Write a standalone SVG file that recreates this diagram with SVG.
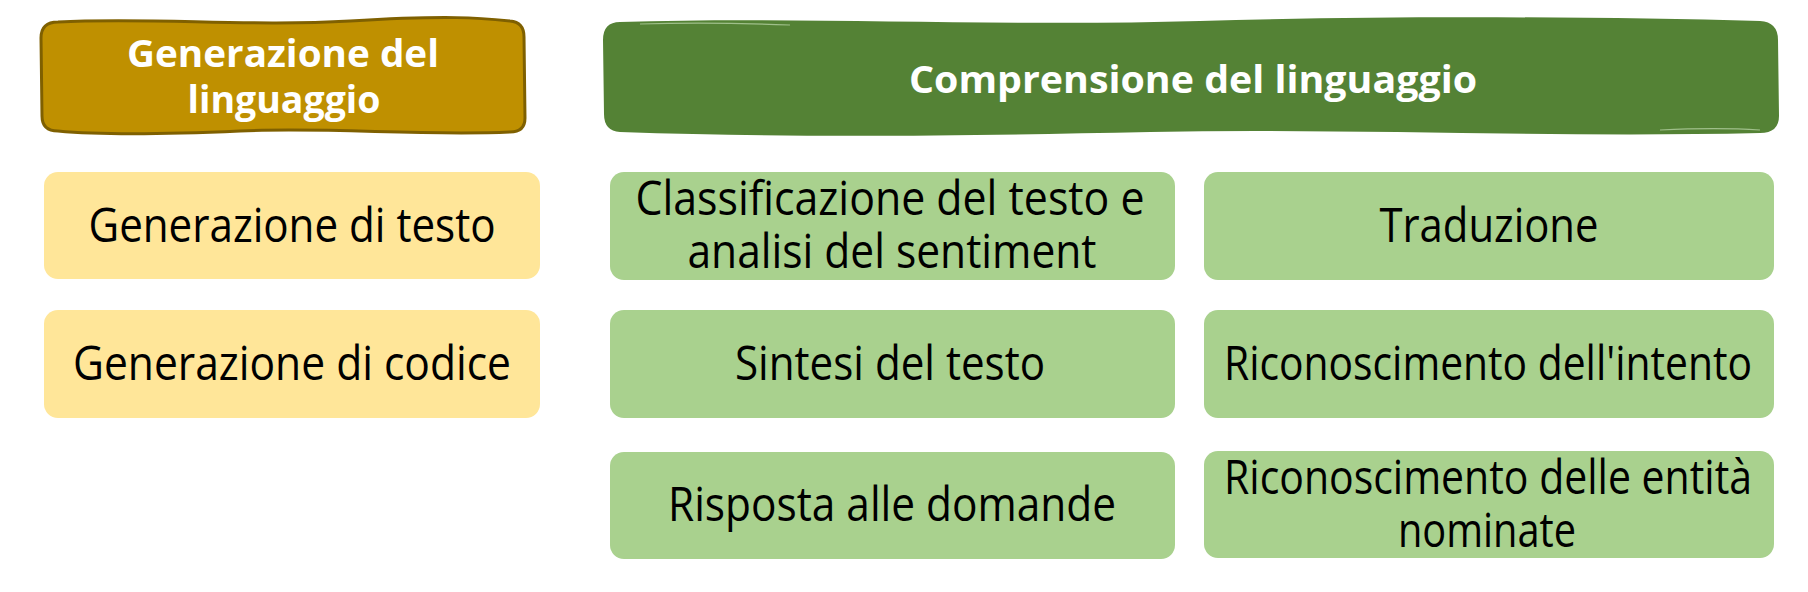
<svg xmlns="http://www.w3.org/2000/svg" width="1808" height="592" viewBox="0 0 1808 592">
<style>
.t{font-family:"Open Sans","Noto Sans","Liberation Sans",sans-serif;font-size:48px;fill:#000;text-anchor:middle}
.h{font-family:"Open Sans","Noto Sans","Liberation Sans",sans-serif;font-size:38px;font-weight:bold;fill:#fff;text-anchor:middle}
.y{fill:#FFE699}
.g{fill:#A9D18E}
</style>
<rect width="1808" height="592" fill="#fff"/>
<g id="hdr-gen">
<path d="M58 22 C150 17 250 27 350 21 S480 18 510 21 Q524 22 524 37 L525 118 Q525 132 510 132 C420 136 330 127 240 131 S100 135 58 131 Q42 131 42 116 L41 38 Q41 22 58 22 Z" fill="#BF9000" stroke="#7F6000" stroke-width="3"/>
<text class="h" x="283" y="67" textLength="312" lengthAdjust="spacingAndGlyphs">Generazione del</text>
<text class="h" x="284" y="113" textLength="193" lengthAdjust="spacingAndGlyphs">linguaggio</text>
</g>
<g id="hdr-comp">
<path d="M620 22 C800 16 1000 27 1200 21 S1600 17 1760 21 Q1778 22 1778 40 L1779 116 Q1779 133 1760 133 C1550 138 1350 128 1150 132 S800 138 620 132 Q604 131 604 114 L603 40 Q603 22 620 22 Z" fill="#548235"/>
<path d="M640 24 C700 22 740 23 790 25" fill="none" stroke="#9fbf8a" stroke-width="1.2"/>
<path d="M1660 130 C1700 128 1730 128 1760 130" fill="none" stroke="#9fbf8a" stroke-width="1.2"/>
<text class="h" x="1193" y="93" textLength="568" lengthAdjust="spacingAndGlyphs">Comprensione del linguaggio</text>
</g>
<g id="n-gen-testo">
<rect class="y" x="44" y="172" width="496" height="107" rx="14"/>
<text class="t" x="292" y="242" textLength="407" lengthAdjust="spacingAndGlyphs">Generazione di testo</text>
</g>
<g id="n-gen-codice">
<rect class="y" x="44" y="310" width="496" height="108" rx="14"/>
<text class="t" x="292" y="380" textLength="438" lengthAdjust="spacingAndGlyphs">Generazione di codice</text>
</g>
<g id="n-classificazione">
<rect class="g" x="610" y="172" width="565" height="108" rx="14"/>
<text class="t" x="890" y="215" textLength="509" lengthAdjust="spacingAndGlyphs">Classificazione del testo e</text>
<text class="t" x="892" y="268" textLength="409" lengthAdjust="spacingAndGlyphs">analisi del sentiment</text>
</g>
<g id="n-traduzione">
<rect class="g" x="1204" y="172" width="570" height="108" rx="14"/>
<text class="t" x="1489" y="242" textLength="219" lengthAdjust="spacingAndGlyphs">Traduzione</text>
</g>
<g id="n-sintesi">
<rect class="g" x="610" y="310" width="565" height="108" rx="14"/>
<text class="t" x="890" y="380" textLength="310" lengthAdjust="spacingAndGlyphs">Sintesi del testo</text>
</g>
<g id="n-intento">
<rect class="g" x="1204" y="310" width="570" height="108" rx="14"/>
<text class="t" x="1488" y="380" textLength="528" lengthAdjust="spacingAndGlyphs">Riconoscimento dell'intento</text>
</g>
<g id="n-risposta">
<rect class="g" x="610" y="452" width="565" height="107" rx="14"/>
<text class="t" x="892" y="521" textLength="448" lengthAdjust="spacingAndGlyphs">Risposta alle domande</text>
</g>
<g id="n-entita">
<rect class="g" x="1204" y="451" width="570" height="107" rx="14"/>
<text class="t" x="1488" y="494" textLength="528" lengthAdjust="spacingAndGlyphs">Riconoscimento delle entità</text>
<text class="t" x="1487" y="547" textLength="178" lengthAdjust="spacingAndGlyphs">nominate</text>
</g>
<g id="connectors"/>
</svg>
